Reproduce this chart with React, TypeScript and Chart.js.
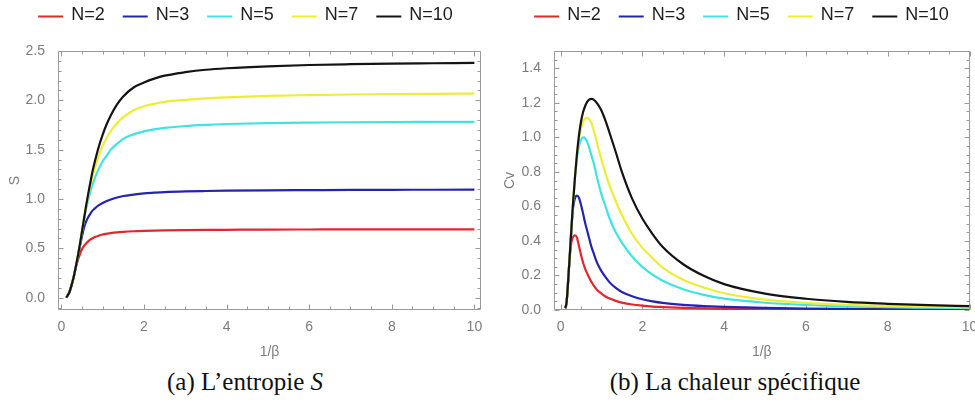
import React, { useEffect, useRef } from "react";
import { Chart, registerables } from "chart.js";

Chart.register(...registerables);

// Temperature grid 1/β shared by every curve
const temperature = [
  0.12, 0.15, 0.2, 0.25, 0.3, 0.35, 0.4, 0.45, 0.5, 0.55, 0.6, 0.65, 0.7, 0.75, 0.8, 0.9,
  1.0, 1.1, 1.2, 1.35, 1.5, 1.75, 2.0, 2.25, 2.5, 3, 3.5, 4, 5, 6, 7, 8, 9, 10,
];

// Entropy S
const entropyN2 = [
  0, 0.02, 0.06, 0.13, 0.21, 0.3, 0.38, 0.44, 0.49, 0.525, 0.55, 0.57, 0.588, 0.6, 0.612, 0.628,
  0.64, 0.648, 0.655, 0.662, 0.667, 0.673, 0.677, 0.68, 0.682, 0.685, 0.687, 0.688, 0.69, 0.691, 0.692, 0.692, 0.693, 0.693,
];
const entropyN3 = [
  0, 0.02, 0.06, 0.13, 0.21, 0.31, 0.41, 0.52, 0.62, 0.71, 0.77, 0.815, 0.85, 0.88, 0.9, 0.935,
  0.96, 0.98, 0.995, 1.015, 1.03, 1.045, 1.057, 1.064, 1.07, 1.077, 1.081, 1.084, 1.088, 1.09, 1.092, 1.093, 1.094, 1.095,
];
const entropyN5 = [
  0, 0.02, 0.06, 0.13, 0.21, 0.31, 0.42, 0.54, 0.67, 0.79, 0.9, 0.99, 1.07, 1.14, 1.2, 1.3,
  1.38, 1.44, 1.5, 1.56, 1.61, 1.655, 1.685, 1.705, 1.72, 1.74, 1.752, 1.76, 1.77, 1.775, 1.778, 1.78, 1.781, 1.782,
];
const entropyN7 = [
  0, 0.02, 0.06, 0.13, 0.21, 0.31, 0.42, 0.54, 0.67, 0.8, 0.92, 1.03, 1.13, 1.22, 1.3, 1.43,
  1.54, 1.62, 1.69, 1.77, 1.83, 1.9, 1.94, 1.965, 1.985, 2.005, 2.02, 2.03, 2.045, 2.053, 2.059, 2.063, 2.066, 2.068,
];
const entropyN10 = [
  0, 0.02, 0.06, 0.13, 0.21, 0.31, 0.42, 0.54, 0.67, 0.8, 0.93, 1.05, 1.16, 1.27, 1.36, 1.52,
  1.65, 1.76, 1.85, 1.96, 2.04, 2.13, 2.18, 2.22, 2.25, 2.285, 2.31, 2.325, 2.345, 2.358, 2.366, 2.372, 2.376, 2.38,
];

// Specific heat Cv
const heatN2 = [
  0.01, 0.05, 0.22, 0.37, 0.42, 0.433, 0.42, 0.37, 0.32, 0.275, 0.24, 0.212, 0.188, 0.165, 0.145, 0.115,
  0.095, 0.078, 0.066, 0.053, 0.043, 0.032, 0.025, 0.02, 0.017, 0.012, 0.009, 0.007, 0.0045, 0.003, 0.0023, 0.0018, 0.0014, 0.0012,
];
const heatN3 = [
  0.01, 0.05, 0.22, 0.41, 0.58, 0.645, 0.662, 0.65, 0.61, 0.56, 0.505, 0.46, 0.415, 0.37, 0.335, 0.27,
  0.225, 0.19, 0.16, 0.128, 0.104, 0.08, 0.062, 0.05, 0.041, 0.03, 0.023, 0.018, 0.012, 0.008, 0.006, 0.0045, 0.0036, 0.003,
];
const heatN5 = [
  0.01, 0.05, 0.22, 0.41, 0.6, 0.76, 0.88, 0.95, 0.985, 1.0, 0.995, 0.975, 0.94, 0.9, 0.86, 0.76,
  0.67, 0.6, 0.53, 0.45, 0.39, 0.31, 0.25, 0.205, 0.17, 0.12, 0.088, 0.066, 0.042, 0.029, 0.021, 0.016, 0.013, 0.01,
];
const heatN7 = [
  0.01, 0.05, 0.22, 0.41, 0.6, 0.76, 0.9, 0.99, 1.05, 1.09, 1.11, 1.115, 1.105, 1.085, 1.05, 0.96,
  0.87, 0.79, 0.72, 0.63, 0.55, 0.44, 0.36, 0.3, 0.245, 0.175, 0.13, 0.097, 0.06, 0.041, 0.03, 0.023, 0.018, 0.015,
];
const heatN10 = [
  0.01, 0.05, 0.22, 0.41, 0.6, 0.76, 0.9, 1.01, 1.09, 1.145, 1.18, 1.205, 1.218, 1.223, 1.22, 1.195,
  1.155, 1.095, 1.025, 0.915, 0.8, 0.645, 0.53, 0.44, 0.365, 0.265, 0.198, 0.15, 0.095, 0.065, 0.047, 0.036, 0.028, 0.022,
];

const seriesLabels = ["N=2", "N=3", "N=5", "N=7", "N=10"];
const seriesColors = ["#e3262b", "#2323b4", "#40e2e2", "#eded35", "#141414"];

const SANS = '"Liberation Sans", Arial, sans-serif';
const SERIF = '"Liberation Serif", "Times New Roman", serif';
const GREY = "#7c7c7c";
const FRAME = "#9a9a9a";

// Mathematica-style frame with inward ticks on all four sides
const frameTicksPlugin = {
  id: "frameTicks",
  beforeDatasetsDraw(chart: any, _args: any, opts: any) {
    const { ctx, chartArea: a, scales } = chart;
    ctx.save();
    ctx.strokeStyle = FRAME;
    ctx.lineWidth = 1;
    const L = Math.round(a.left) + 0.5;
    const R = Math.round(a.right) - 0.5;
    const T = Math.round(a.top) + 0.5;
    const B = Math.round(a.bottom) - 0.5;
    ctx.beginPath();
    ctx.rect(L, T, R - L, B - T);
    ctx.stroke();
    const marks = (scale: any, major: number, minor: number, horizontal: boolean) => {
      const start = Math.ceil(scale.min / minor - 1e-9);
      const end = Math.floor(scale.max / minor + 1e-9);
      for (let k = start; k <= end; k++) {
        const v = k * minor;
        const isMajor = Math.abs(v / major - Math.round(v / major)) < 1e-6;
        const len = isMajor ? 5 : 3;
        const p = Math.round(scale.getPixelForValue(v)) + 0.5;
        ctx.beginPath();
        if (horizontal) {
          ctx.moveTo(p, B);
          ctx.lineTo(p, B - len);
          ctx.moveTo(p, T);
          ctx.lineTo(p, T + len);
        } else {
          ctx.moveTo(L, p);
          ctx.lineTo(L + len, p);
          ctx.moveTo(R, p);
          ctx.lineTo(R - len, p);
        }
        ctx.stroke();
      }
    };
    marks(scales.x, opts.xMajor, opts.xMinor, true);
    marks(scales.y, opts.yMajor, opts.yMinor, false);
    ctx.restore();
  },
};

// Row of line swatches with series names above the frame
const lineLegendPlugin = {
  id: "lineLegend",
  afterDraw(chart: any, _args: any, opts: any) {
    const ctx = chart.ctx;
    ctx.save();
    ctx.font = `18px ${SANS}`;
    const items = chart.data.datasets.map((d: any) => ({
      label: d.label,
      color: d.borderColor,
      w: ctx.measureText(d.label).width,
    }));
    const lineLen = 25;
    const gapText = 8;
    const gapItem = 18;
    const total =
      items.reduce((s: number, it: any) => s + lineLen + gapText + it.w, 0) + gapItem * (items.length - 1);
    let x = opts.centerX - total / 2;
    const y = opts.y;
    items.forEach((it: any) => {
      ctx.strokeStyle = it.color;
      ctx.lineWidth = 2;
      ctx.beginPath();
      ctx.moveTo(x, y + 1.5);
      ctx.lineTo(x + lineLen, y + 1.5);
      ctx.stroke();
      ctx.fillStyle = "#1e1e1e";
      ctx.textAlign = "left";
      ctx.textBaseline = "middle";
      ctx.fillText(it.label, x + lineLen + gapText, y);
      x += lineLen + gapText + it.w + gapItem;
    });
    ctx.restore();
  },
};

type PanelProps = {
  left: number;
  width: number;
  series: number[][];
  xMin: number;
  xMax: number;
  yMin: number;
  yMax: number;
  yStep: number;
  yMinor: number;
  yTitle: string;
  yAxisWidth: number;
  yTitlePad: number;
  padRight: number;
  legendCenter: number;
};

function PhysicsPanel(p: PanelProps) {
  const ref = useRef<HTMLCanvasElement>(null);

  useEffect(() => {
    if (!ref.current) return;
    const tickFont = { family: SANS, size: 14 };
    const chart = new Chart(ref.current, {
      type: "line",
      data: {
        datasets: p.series.map((ys, i) => ({
          label: seriesLabels[i],
          data: temperature.map((t, j) => ({ x: t, y: ys[j] })),
          borderColor: seriesColors[i],
          backgroundColor: seriesColors[i],
          borderWidth: 2.2,
          pointRadius: 0,
          fill: false,
          cubicInterpolationMode: "monotone" as const,
          order: seriesLabels.length - 1 - i,
        })),
      },
      options: {
        animation: false,
        responsive: false,
        devicePixelRatio: 1,
        layout: { padding: { top: 51, right: p.padRight, bottom: 0, left: 0 } },
        plugins: {
          legend: { display: false },
          tooltip: { enabled: false },
          frameTicks: { xMajor: 2, xMinor: 0.5, yMajor: p.yStep, yMinor: p.yMinor },
          lineLegend: { centerX: p.legendCenter, y: 15 },
        } as any,
        scales: {
          x: {
            type: "linear",
            min: p.xMin,
            max: p.xMax,
            afterFit: (s: any) => {
              s.height = 55;
            },
            grid: { display: false },
            border: { display: false },
            ticks: {
              stepSize: 2,
              includeBounds: false,
              autoSkip: false,
              maxRotation: 0,
              padding: 1,
              color: GREY,
              font: tickFont,
              callback: (v: any) => String(v),
            },
            title: {
              display: true,
              text: "1/β",
              color: GREY,
              font: tickFont,
              padding: { top: 0, bottom: 4 },
            },
          },
          y: {
            type: "linear",
            min: p.yMin,
            max: p.yMax,
            afterFit: (s: any) => {
              s.width = p.yAxisWidth;
            },
            grid: { display: false },
            border: { display: false },
            ticks: {
              stepSize: p.yStep,
              includeBounds: false,
              padding: 5,
              color: GREY,
              font: tickFont,
              callback: (v: any) => Number(v).toFixed(1),
            },
            title: {
              display: true,
              text: p.yTitle,
              color: GREY,
              font: tickFont,
              padding: { top: p.yTitlePad, bottom: 0 },
            },
          },
        },
      },
      plugins: [frameTicksPlugin, lineLegendPlugin],
    } as any);
    return () => chart.destroy();
  }, []);

  return (
    <canvas
      ref={ref}
      width={p.width}
      height={365}
      style={{ position: "absolute", left: p.left, top: 0, width: p.width, height: 365 }}
    />
  );
}

const captionStyle: React.CSSProperties = {
  position: "absolute",
  top: 368,
  textAlign: "center",
  fontFamily: SERIF,
  fontSize: 25,
  color: "#111",
  whiteSpace: "nowrap",
};

export default function App() {
  return (
    <div
      style={{
        position: "absolute",
        left: 0,
        top: 0,
        width: 975,
        height: 410,
        overflow: "hidden",
        background: "#fff",
      }}
    >
      <PhysicsPanel
        left={0}
        width={490}
        series={[entropyN2, entropyN3, entropyN5, entropyN7, entropyN10]}
        xMin={-0.08}
        xMax={10.16}
        yMin={-0.125}
        yMax={2.5}
        yStep={0.5}
        yMinor={0.1}
        yTitle="S"
        yAxisWidth={58}
        yTitlePad={7}
        padRight={9}
        legendCenter={245.5}
      />
      <PhysicsPanel
        left={490}
        width={510}
        series={[heatN2, heatN3, heatN5, heatN7, heatN10]}
        xMin={-0.16}
        xMax={10}
        yMin={0}
        yMax={1.5}
        yStep={0.2}
        yMinor={0.05}
        yTitle="Cv"
        yAxisWidth={64}
        yTitlePad={12}
        padRight={30.5}
        legendCenter={251.5}
      />
      <div style={{ ...captionStyle, left: 0, width: 490 }}>
        (a) L’entropie <i>S</i>
      </div>
      <div style={{ ...captionStyle, left: 485, width: 500 }}>(b) La chaleur spécifique</div>
    </div>
  );
}
